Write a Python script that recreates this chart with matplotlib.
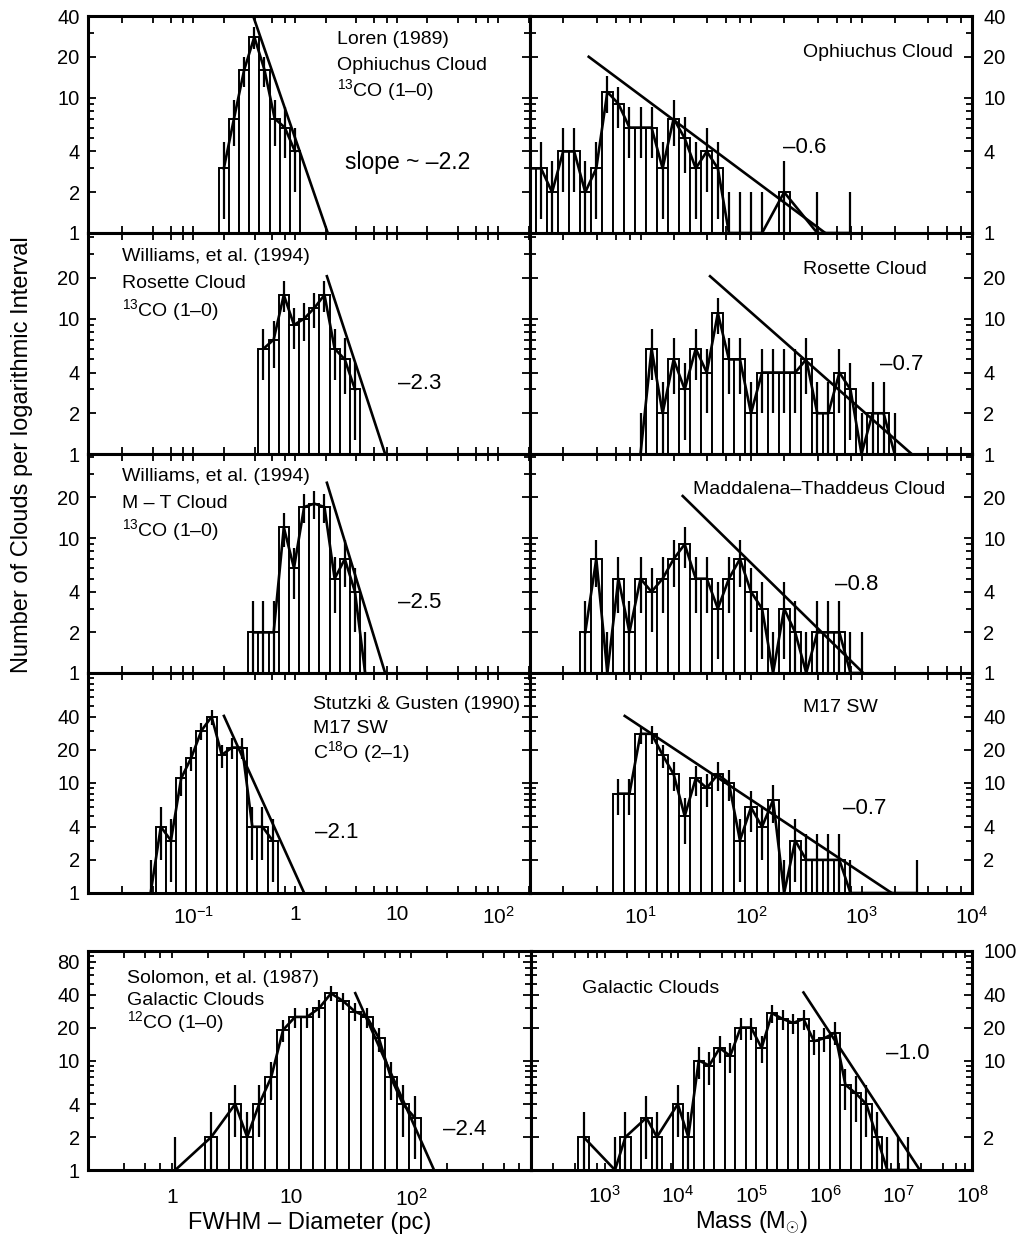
import numpy as np
import matplotlib
matplotlib.use("Agg")
import matplotlib.pyplot as plt
from matplotlib.ticker import FixedLocator, FixedFormatter, LogLocator, NullFormatter

plt.rcParams['font.family'] = ['Liberation Sans', 'DejaVu Sans']
plt.rcParams['mathtext.fontset'] = 'custom'
plt.rcParams['mathtext.rm'] = 'Liberation Sans'
plt.rcParams['mathtext.it'] = 'Liberation Sans:italic'
plt.rcParams['mathtext.bf'] = 'Liberation Sans:bold'

# ---- data: log10 of first bin centre, bin width (dex), counts per bin,
# ---- power-law fit line (x0, y0, x1, y1)
oph_size_start, oph_size_step = -0.70, 0.1
oph_size_counts = [3, 7, 16, 28, 16, 7, 6, 4]
oph_size_fit = (0.39, 39.5, 2.1, 1.0)

oph_mass_start, oph_mass_step = 0.0, 0.1
oph_mass_counts = [3, 3, 2, 4, 4, 2, 3, 11, 9, 6, 6, 6, 3, 7, 5, 3, 4, 3,
                   1, 1, 1, 1, 0, 2, 0, 0, 1, 0, 0, 1]
oph_mass_fit = (3.4, 20.0, 470.0, 1.0)

ros_size_start, ros_size_step = -0.31, 0.1
ros_size_counts = [6, 7, 15, 9, 10, 12, 15, 6, 5, 3]
ros_size_fit = (2.06, 20.6, 7.7, 1.0)

ros_mass_start, ros_mass_step = 1.0, 0.1
ros_mass_counts = [1, 6, 2, 5, 3, 6, 4, 11, 5, 5, 2, 4, 4, 4, 4, 5, 2, 2,
                   4, 3, 1, 2, 2, 1]
ros_mass_fit = (42.6, 20.6, 2844.0, 1.0)

mt_size_start, mt_size_step = -0.41, 0.1
mt_size_counts = [2, 2, 2, 12, 6, 17, 18, 17, 5, 7, 4, 1]
mt_size_fit = (2.06, 25.7, 7.7, 1.0)

mt_mass_start, mt_mass_step = 0.5, 0.1
mt_mass_counts = [2, 7, 1, 5, 2, 5, 4, 5, 7, 9, 5, 5, 3, 5, 7, 4, 3, 1, 3,
                  2, 1, 2, 2, 2, 1, 1]
mt_mass_fit = (24.1, 20.5, 1038.0, 1.0)

m17_size_start, m17_size_step = -1.42, 0.1
m17_size_counts = [1, 4, 3, 11, 17, 30, 40, 18, 21, 21, 4, 4, 3]
m17_size_fit = (0.2, 40.7, 1.23, 1.0)

m17_mass_start, m17_mass_step = 0.8, 0.1
m17_mass_counts = [8, 8, 28, 28, 18, 12, 5, 11, 9, 12, 10, 3, 6, 4, 7, 1,
                   3, 2, 2, 2, 2, 1, 0, 0, 0, 0, 0, 1]
m17_mass_fit = (7.2, 40.7, 1875.0, 1.0)

gal_size_start, gal_size_step = 0.03, 0.1
gal_size_counts = [1, 0, 0, 2, 0, 4, 2, 4, 7, 19, 25, 25, 30, 41, 35, 28,
                   25, 16, 7, 4, 3]
gal_size_fit = (34.1, 41.2, 155.0, 1.0)

gal_mass_start, gal_mass_step = 2.715, 0.1425
gal_mass_counts = [2, 0, 0, 1, 2, 0, 3, 2, 0, 4, 2, 10, 9, 13, 11, 20, 20,
                   13, 27, 24, 22, 24, 15, 16, 18, 6, 5, 4, 2, 1, 1, 1]
gal_mass_fit = (5.1e5, 41.8, 1.95e7, 1.0)

size_ticks = [0.1, 1, 10, 100]
size_labels = [r'$\mathregular{10^{-1}}$', '1', '10', r'$\mathregular{10^{2}}$']
mass_ticks = [10, 100, 1000, 10000]
mass_labels = [r'$\mathregular{10^{%d}}$' % i for i in range(1, 5)]
gsize_ticks = [1, 10, 100]
gsize_labels = ['1', '10', r'$\mathregular{10^{2}}$']
gmass_ticks = [1e3, 1e4, 1e5, 1e6, 1e7, 1e8]
gmass_labels = [r'$\mathregular{10^{%d}}$' % i for i in range(3, 9)]

W, H = 1024, 1239
fig = plt.figure(figsize=(W / 100, H / 100), dpi=100)


def add_ax(x0, x1, y0, y1):
    return fig.add_axes([x0 / W, 1 - y1 / H, (x1 - x0) / W, (y1 - y0) / H])


def draw_hist(ax, start, step, counts, fit):
    n = np.array(counts, dtype=float)
    logc = start + step * np.arange(len(n))
    xc = 10 ** logc
    xl = 10 ** (logc - step / 2)
    xr = 10 ** (logc + step / 2)
    tall = n > 1
    ax.bar(xl[tall], n[tall] - 1, width=(xr - xl)[tall], bottom=1, align='edge',
           color='white', edgecolor='black', linewidth=1.4, zorder=2)
    has = n > 0
    err = np.sqrt(n[has])
    ax.vlines(xc[has], np.maximum(n[has] - err, 0.5), n[has] + err,
              color='black', linewidth=1.6, zorder=3)
    ax.plot(xc[has], n[has], color='black', linewidth=1.9, zorder=4)
    ax.plot(fit[0::2], fit[1::2], color='black', linewidth=1.9, zorder=5)


def style(ax, xlim, xt, xl, ylim, yt, side, show_x, xpad=9):
    ax.set_xscale('log')
    ax.set_yscale('log')
    ax.set_xlim(xlim)
    ax.set_ylim(ylim)
    ax.xaxis.set_major_locator(FixedLocator(xt))
    ax.xaxis.set_major_formatter(FixedFormatter(xl))
    ax.xaxis.set_minor_locator(LogLocator(base=10, subs=(2, 4, 6, 8), numticks=50))
    ax.xaxis.set_minor_formatter(NullFormatter())
    ax.yaxis.set_major_locator(FixedLocator(yt))
    ax.yaxis.set_major_formatter(FixedFormatter([str(v) for v in yt]))
    ax.yaxis.set_minor_locator(LogLocator(base=10, subs=np.arange(2, 10), numticks=50))
    ax.yaxis.set_minor_formatter(NullFormatter())
    ax.tick_params(which='both', direction='in', top=True, bottom=True,
                   left=True, right=True, width=1.3)
    ax.tick_params(axis='x', which='both', length=5, labelbottom=show_x,
                   pad=xpad, labelsize=15)
    ax.tick_params(axis='y', which='major', length=5.5, labelsize=14.5)
    ax.tick_params(axis='y', which='minor', length=4)
    if side == 'left':
        ax.tick_params(axis='y', labelleft=True, labelright=False, pad=6)
    else:
        ax.tick_params(axis='y', labelleft=False, labelright=True, pad=8)
    for s in ax.spines.values():
        s.set_linewidth(2.2)


def note(ax, x, y, s, size=14, ha='left'):
    ax.text(x, y, s, transform=ax.transAxes, fontsize=size, ha=ha, va='center')


SIZE_X = (0.0092, 205)
MASS_X = (1, 1e4)
SLOPE = 16

# row 1: Ophiuchus
ax = add_ax(88, 530, 16, 233)
draw_hist(ax, oph_size_start, oph_size_step, oph_size_counts, oph_size_fit)
style(ax, SIZE_X, size_ticks, size_labels, (1, 40), [1, 2, 4, 10, 20, 40], 'left', False)
note(ax, 0.563, 0.894, 'Loren (1989)')
note(ax, 0.563, 0.774, 'Ophiuchus Cloud')
note(ax, 0.563, 0.659, r'$^{13}$CO (1–0)')
note(ax, 0.581, 0.323, 'slope ~ –2.2', size=16.5)

ax = add_ax(530, 972, 16, 233)
draw_hist(ax, oph_mass_start, oph_mass_step, oph_mass_counts, oph_mass_fit)
style(ax, MASS_X, mass_ticks, mass_labels, (1, 40), [1, 4, 10, 20, 40], 'right', False)
note(ax, 0.957, 0.834, 'Ophiuchus Cloud', ha='right')
note(ax, 0.572, 0.392, '–0.6', size=SLOPE)

# row 2: Rosette
ax = add_ax(88, 530, 233, 454)
draw_hist(ax, ros_size_start, ros_size_step, ros_size_counts, ros_size_fit)
style(ax, SIZE_X, size_ticks, size_labels, (1, 43), [1, 2, 4, 10, 20], 'left', False)
note(ax, 0.076, 0.893, 'Williams, et al. (1994)')
note(ax, 0.076, 0.772, 'Rosette Cloud')
note(ax, 0.076, 0.652, r'$^{13}$CO (1–0)')
note(ax, 0.701, 0.321, '–2.3', size=SLOPE)

ax = add_ax(530, 972, 233, 454)
draw_hist(ax, ros_mass_start, ros_mass_step, ros_mass_counts, ros_mass_fit)
style(ax, MASS_X, mass_ticks, mass_labels, (1, 43), [1, 2, 4, 10, 20], 'right', False)
note(ax, 0.897, 0.833, 'Rosette Cloud', ha='right')
note(ax, 0.792, 0.403, '–0.7', size=SLOPE)

# row 3: Maddalena-Thaddeus
ax = add_ax(88, 530, 454, 673)
draw_hist(ax, mt_size_start, mt_size_step, mt_size_counts, mt_size_fit)
style(ax, SIZE_X, size_ticks, size_labels, (1, 42), [1, 2, 4, 10, 20], 'left', False)
note(ax, 0.076, 0.896, 'Williams, et al. (1994)')
note(ax, 0.076, 0.775, 'M – T Cloud')
note(ax, 0.076, 0.653, r'$^{13}$CO (1–0)')
note(ax, 0.701, 0.320, '–2.5', size=SLOPE)

ax = add_ax(530, 972, 454, 673)
draw_hist(ax, mt_mass_start, mt_mass_step, mt_mass_counts, mt_mass_fit)
style(ax, MASS_X, mass_ticks, mass_labels, (1, 42), [1, 2, 4, 10, 20], 'right', False)
note(ax, 0.939, 0.836, 'Maddalena–Thaddeus Cloud', ha='right')
note(ax, 0.690, 0.402, '–0.8', size=SLOPE)

# row 4: M17 SW
ax = add_ax(88, 530, 673, 893)
draw_hist(ax, m17_size_start, m17_size_step, m17_size_counts, m17_size_fit)
style(ax, SIZE_X, size_ticks, size_labels, (1, 100), [1, 2, 4, 10, 20, 40], 'left', True)
note(ax, 0.510, 0.855, 'Stutzki & Gusten (1990)')
note(ax, 0.510, 0.749, 'M17 SW')
note(ax, 0.510, 0.642, r'C$^{18}$O (2–1)')
note(ax, 0.514, 0.273, '–2.1', size=SLOPE)

ax = add_ax(530, 972, 673, 893)
draw_hist(ax, m17_mass_start, m17_mass_step, m17_mass_counts, m17_mass_fit)
style(ax, MASS_X, mass_ticks, mass_labels, (1, 100), [2, 4, 10, 20, 40], 'right', True)
note(ax, 0.618, 0.841, 'M17 SW')
note(ax, 0.708, 0.386, '–0.7', size=SLOPE)

# bottom row: Galactic clouds
ax = add_ax(88, 531, 951, 1170)
draw_hist(ax, gal_size_start, gal_size_step, gal_size_counts, gal_size_fit)
style(ax, (0.2, 1000), gsize_ticks, gsize_labels, (1, 100), [1, 2, 4, 10, 20, 40, 80],
      'left', True, xpad=13)
note(ax, 0.087, 0.875, 'Solomon, et al. (1987)')
note(ax, 0.087, 0.776, 'Galactic Clouds')
note(ax, 0.087, 0.677, r'$^{12}$CO (1–0)')
note(ax, 0.801, 0.183, '–2.4', size=SLOPE)

ax = add_ax(531, 972, 951, 1170)
draw_hist(ax, gal_mass_start, gal_mass_step, gal_mass_counts, gal_mass_fit)
style(ax, (1e2, 1e8), gmass_ticks, gmass_labels, (1, 100), [2, 10, 20, 40, 100],
      'right', True, xpad=11)
note(ax, 0.115, 0.830, 'Galactic Clouds')
note(ax, 0.806, 0.534, '–1.0', size=SLOPE)

fig.text(22 / W, 1 - 454.5 / H, 'Number of Clouds per logarithmic Interval',
         rotation=90, ha='center', va='center', fontsize=17)
fig.text(310 / W, 1 - 1223 / H, 'FWHM – Diameter (pc)', ha='center', va='center', fontsize=17)
fig.text(751 / W, 1 - 1223 / H, r'Mass (M$_{\odot}$)', ha='center', va='center', fontsize=17)

fig.savefig('out.png', dpi=100)
